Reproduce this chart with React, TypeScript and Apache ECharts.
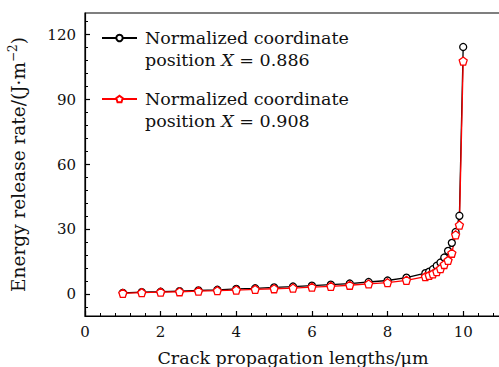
import React, { useEffect, useRef } from "react";
import * as echarts from "echarts";

const xValues = [1, 1.5, 2, 2.5, 3, 3.5, 4, 4.5, 5, 5.5, 6, 6.5, 7, 7.5, 8, 8.5, 9, 9.1, 9.2, 9.3, 9.4, 9.5, 9.6, 9.7, 9.8, 9.9, 10];
const seriesA = [0.7, 1.0, 1.2, 1.5, 1.8, 2.1, 2.5, 2.8, 3.2, 3.6, 4.0, 4.5, 5.0, 5.7, 6.4, 7.7, 9.8, 10.5, 11.6, 13.2, 14.7, 17.0, 20.1, 23.8, 28.8, 36.3, 114.3];
const seriesB = [0.5, 0.8, 1.0, 1.2, 1.5, 1.7, 2.0, 2.3, 2.6, 2.9, 3.3, 3.7, 4.2, 4.8, 5.4, 6.5, 8.2, 8.8, 9.5, 10.5, 11.9, 13.8, 15.7, 19.0, 27.5, 32.0, 107.8];
const nameA = "Normalized coordinate position X = 0.886";
const nameB = "Normalized coordinate position X = 0.908";
const legendA = "Normalized coordinate\nposition {i|X} = 0.886";
const legendB = "Normalized coordinate\nposition {i|X} = 0.908";
const xMajor = [0, 2, 4, 6, 8, 10];
const xMinor = [0.4, 0.8, 1.2, 1.6, 2.4, 2.8, 3.2, 3.6, 4.4, 4.8, 5.2, 5.6, 6.4, 6.8, 7.2, 7.6, 8.4, 8.8, 9.2, 9.6, 10.4, 10.8];
const yMajor = [0, 30, 60, 90, 120];
const yMinor = [-6, 6, 12, 18, 24, 36, 42, 48, 54, 66, 72, 78, 84, 96, 102, 108, 114, 126];
const xTitle = "Crack propagation lengths/μm";
const yTitle = "Energy release rate/(J·m{sup|−2})";

const FONT = "DejaVu Serif";
const FS = 15;
const TFS = 17.5;
const pentagon = "path://M0,-10 L9.511,-3.09 L5.878,8.09 L-5.878,8.09 L-9.511,-3.09 Z";

export default function App() {
  const ref = useRef<HTMLDivElement>(null);
  useEffect(() => {
    if (!ref.current) return;
    const chart = echarts.init(ref.current, undefined, { renderer: "svg" });
    const axisLine = { show: true, onZero: false, lineStyle: { color: "#000", width: 1.2 } };
    const legendText = () => ({
      fontFamily: FONT,
      fontSize: TFS,
      color: "#111",
      lineHeight: 22,
      padding: [22, 0, 0, 3],
      rich: {
        i: { fontFamily: FONT, fontSize: TFS, fontStyle: "italic", color: "#111", lineHeight: 22 },
      },
    });
    chart.setOption({
      animation: false,
      backgroundColor: "#fff",
      grid: {
        left: 85,
        top: 13,
        width: 416,
        bottom: 51,
        show: true,
        borderColor: "#000",
        borderWidth: 1.2,
        backgroundColor: "transparent",
        outerBoundsMode: "none",
        containLabel: false,
      },
      legend: [
        {
          data: [nameA],
          left: 101,
          top: 5,
          padding: 0,
          itemWidth: 35,
          itemHeight: 8,
          formatter: () => legendA,
          textStyle: legendText(),
        },
        {
          data: [nameB],
          left: 101,
          top: 66,
          padding: 0,
          itemWidth: 35,
          itemHeight: 8,
          formatter: () => legendB,
          textStyle: legendText(),
        },
      ],
      xAxis: [
        {
          type: "value",
          min: 0,
          max: 11,
          interval: 2,
          position: "bottom",
          axisLine,
          axisTick: { show: true, inside: true, length: 5, customValues: xMajor, lineStyle: { color: "#000", width: 1.2 } },
          axisLabel: { customValues: xMajor, margin: 8, fontFamily: FONT, fontSize: FS, color: "#111" },
          splitLine: { show: false },
          name: xTitle,
          nameLocation: "middle",
          nameGap: 33,
          nameTextStyle: { fontFamily: FONT, fontSize: TFS, color: "#111" },
        },
        {
          type: "value",
          min: 0,
          max: 11,
          position: "bottom",
          axisLine: { show: false, onZero: false },
          axisTick: { show: true, inside: true, length: 3, customValues: xMinor, lineStyle: { color: "#000", width: 1 } },
          axisLabel: { show: false },
          splitLine: { show: false },
        },
      ],
      yAxis: [
        {
          type: "value",
          min: -10,
          max: 130,
          position: "left",
          axisLine,
          axisTick: { show: true, inside: true, length: 5, customValues: yMajor, lineStyle: { color: "#000", width: 1.2 } },
          axisLabel: { customValues: yMajor, margin: 9, fontFamily: FONT, fontSize: FS, color: "#111" },
          splitLine: { show: false },
          name: yTitle,
          nameLocation: "middle",
          nameGap: 56,
          nameRotate: 90,
          nameTextStyle: {
            fontFamily: FONT,
            fontSize: 18.5,
            color: "#111",
            lineHeight: 22,
            rich: { sup: { fontFamily: FONT, fontSize: 12, color: "#111", verticalAlign: "top", lineHeight: 22 } },
          },
        },
        {
          type: "value",
          min: -10,
          max: 130,
          position: "left",
          axisLine: { show: false, onZero: false },
          axisTick: { show: true, inside: true, length: 3, customValues: yMinor, lineStyle: { color: "#000", width: 1 } },
          axisLabel: { show: false },
          splitLine: { show: false },
        },
      ],
      series: [
        {
          name: nameA,
          type: "line",
          xAxisIndex: 0,
          yAxisIndex: 0,
          data: xValues.map((x, i) => [x, seriesA[i]]),
          symbol: "circle",
          symbolSize: 7,
          itemStyle: { color: "#fff", borderColor: "#000", borderWidth: 1.3 },
          lineStyle: { color: "#000", width: 1.3 },
          color: "#000",
        },
        {
          name: nameB,
          type: "line",
          xAxisIndex: 0,
          yAxisIndex: 0,
          data: xValues.map((x, i) => [x, seriesB[i]]),
          symbol: pentagon,
          symbolSize: 8,
          itemStyle: { color: "#fff", borderColor: "#ff0000", borderWidth: 1.3 },
          lineStyle: { color: "#ff0000", width: 1.3 },
          color: "#ff0000",
        },
      ],
    });
    return () => chart.dispose();
  }, []);
  return (
    <div style={{ position: "fixed", left: 0, top: 0, width: 499, height: 367, background: "#fff" }}>
      <div ref={ref} style={{ width: 499, height: 367 }} />
    </div>
  );
}
